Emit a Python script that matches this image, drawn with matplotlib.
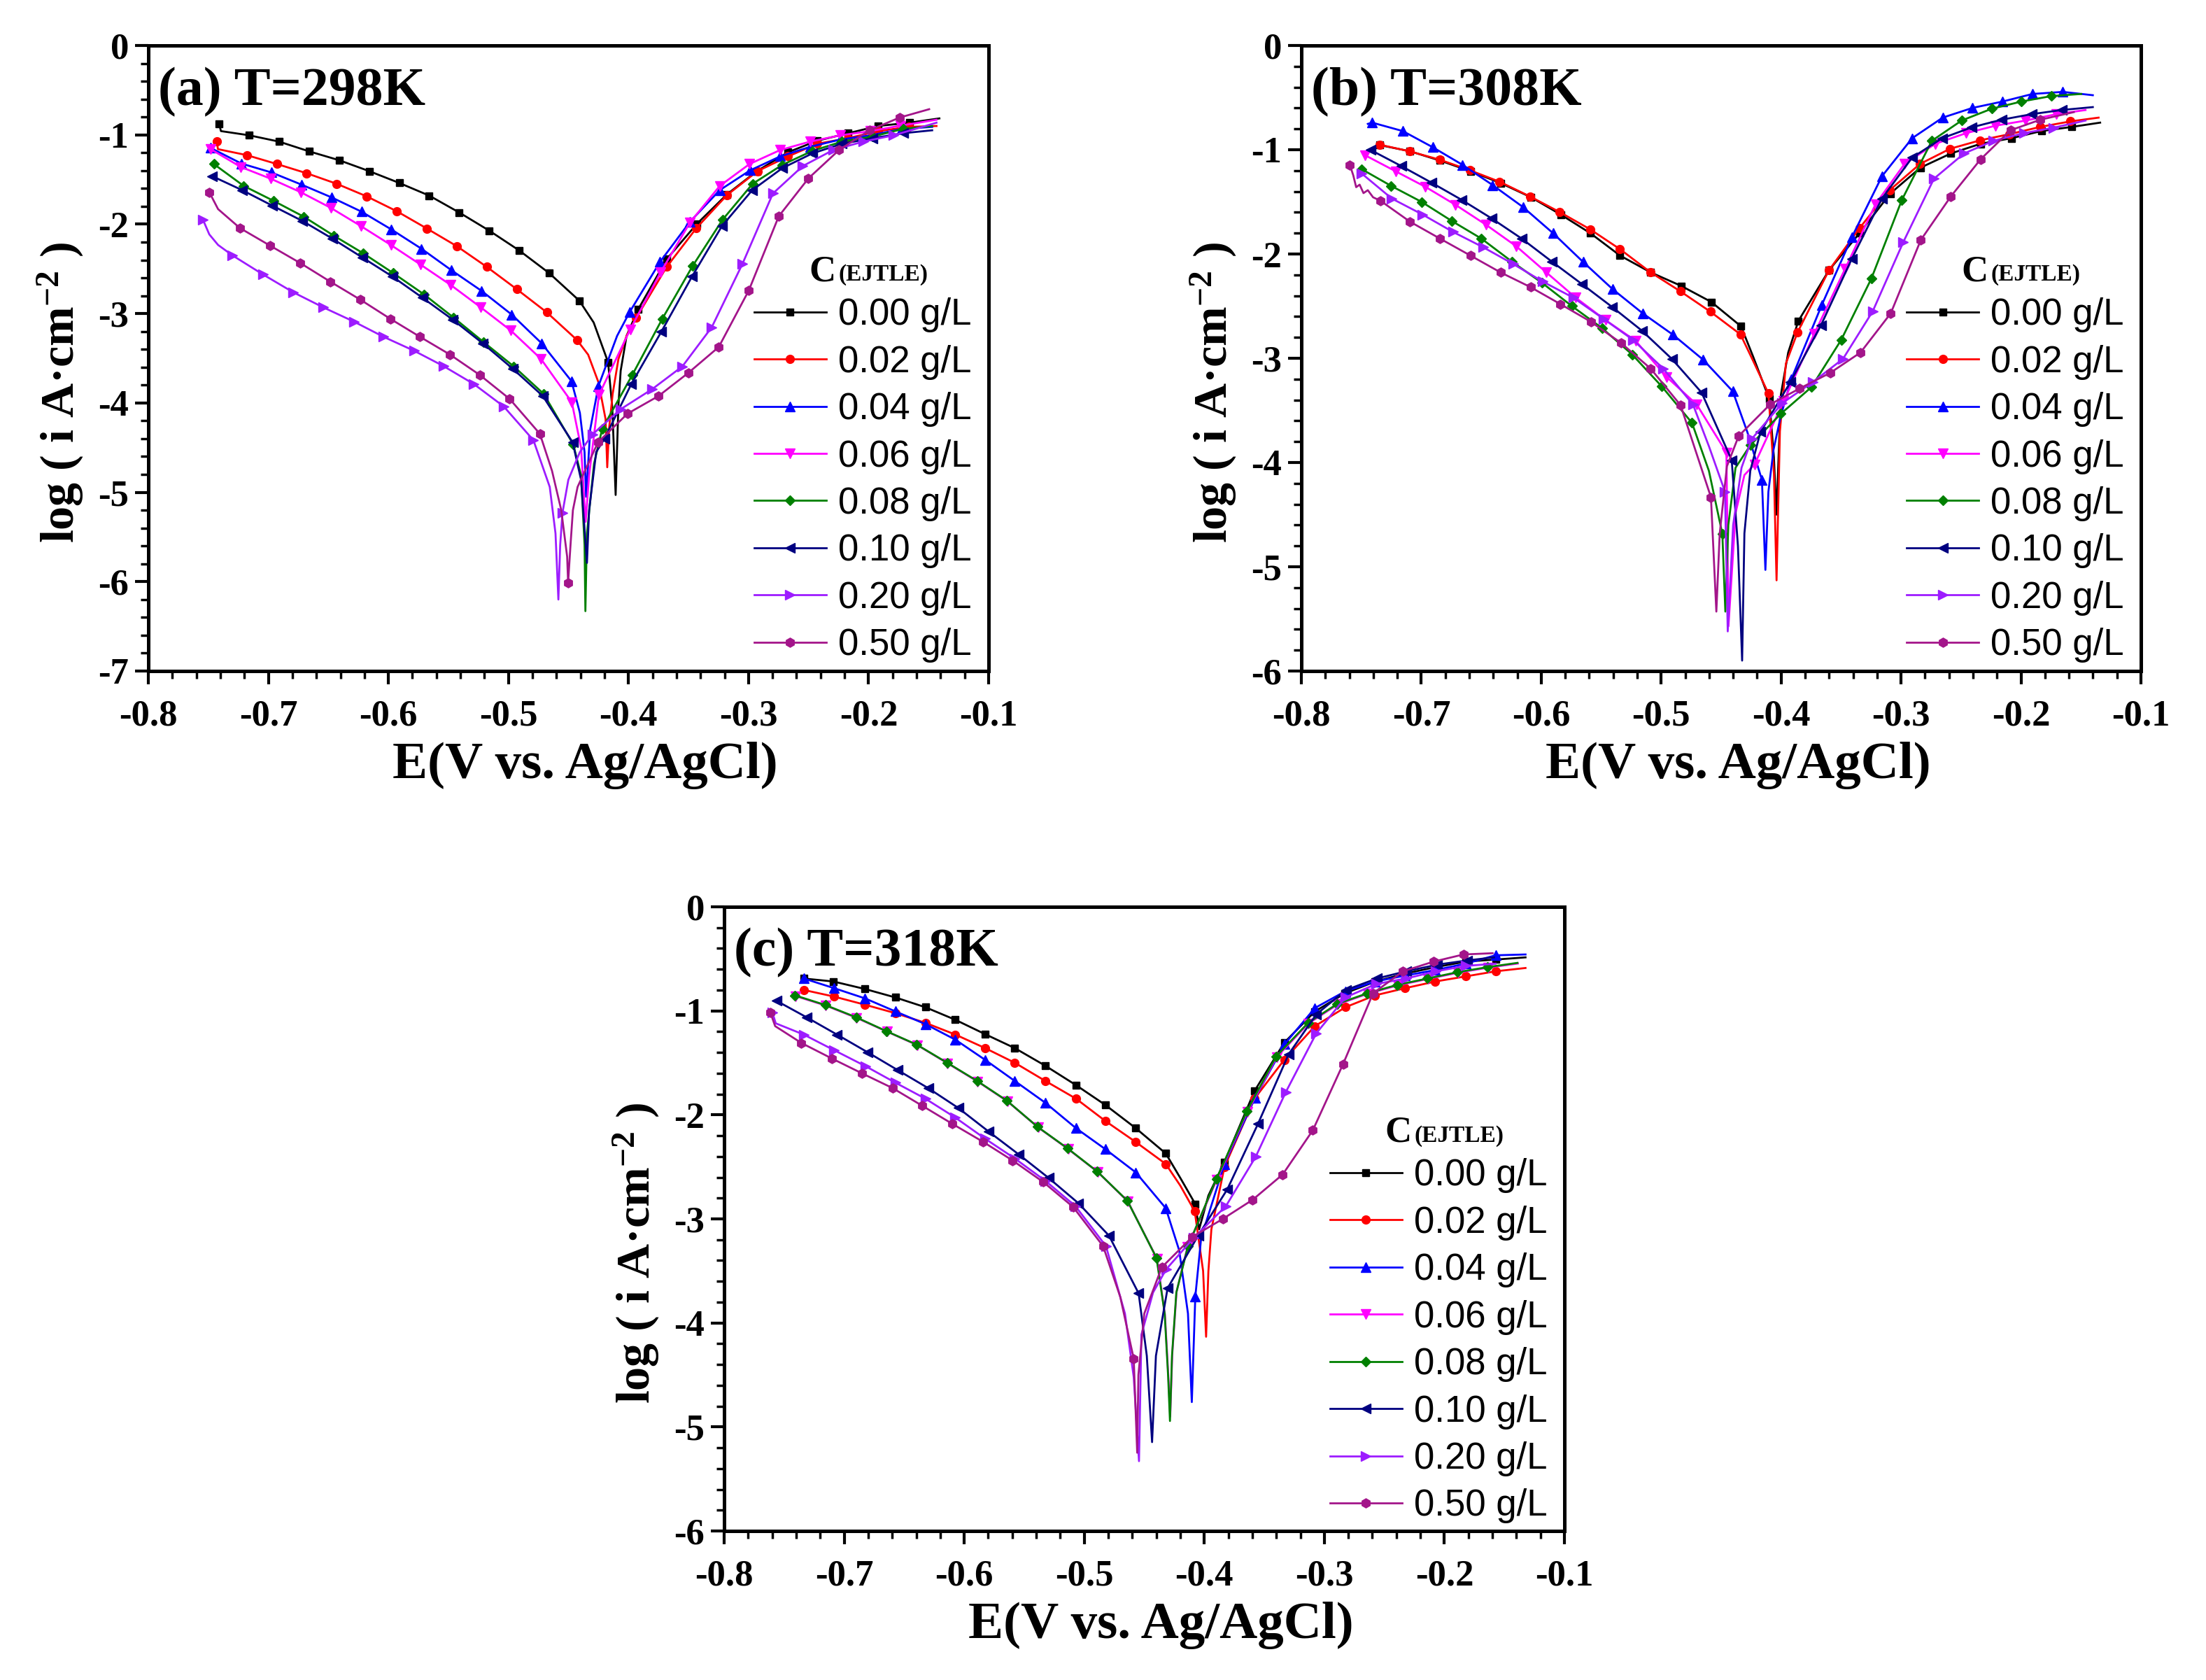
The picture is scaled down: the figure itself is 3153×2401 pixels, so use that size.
import numpy as np
import matplotlib
matplotlib.use("Agg")
import matplotlib.pyplot as plt
from matplotlib.ticker import MultipleLocator, FormatStrFormatter

# ---------------- data ----------------
labels = ["0.00 g/L", "0.02 g/L", "0.04 g/L", "0.06 g/L", "0.08 g/L", "0.10 g/L", "0.20 g/L", "0.50 g/L"]
panel_titles = ["(a) T=298K", "(b) T=308K", "(c) T=318K"]
ylims = [-7, -6, -6]

# ---- 298 K : marked points (E, logi) ----
E_298 = [
    [-0.741, -0.716, -0.691, -0.666, -0.641, -0.616, -0.591, -0.566, -0.541, -0.516, -0.491, -0.466, -0.441, -0.417, -0.392, -0.368, -0.343, -0.318, -0.293, -0.267, -0.243, -0.217, -0.192, -0.166],
    [-0.743, -0.718, -0.693, -0.668, -0.643, -0.618, -0.593, -0.568, -0.543, -0.518, -0.493, -0.468, -0.443, -0.3936, -0.3682, -0.3434, -0.3180, -0.2925, -0.2670, -0.2428, -0.2173, -0.1919, -0.1664],
    [-0.748, -0.7225, -0.6976, -0.6724, -0.6475, -0.6225, -0.5976, -0.5724, -0.5475, -0.5223, -0.4973, -0.4724, -0.4475, -0.4250, -0.3992, -0.3737, -0.3488, -0.3240, -0.2986, -0.2736, -0.2484, -0.2234, -0.1979, -0.1725],
    [-0.748, -0.723, -0.698, -0.673, -0.648, -0.623, -0.598, -0.573, -0.548, -0.523, -0.498, -0.473, -0.4472, -0.4246, -0.3985, -0.3733, -0.3488, -0.3240, -0.2991, -0.2736, -0.2489, -0.2234, -0.1984, -0.1732],
    [-0.7455, -0.7206, -0.6959, -0.6705, -0.6455, -0.6208, -0.5959, -0.5705, -0.5458, -0.5208, -0.4956, -0.4707, -0.4460, -0.4219, -0.3968, -0.3718, -0.3466, -0.3216, -0.2966, -0.2719, -0.2469, -0.2222, -0.1967, -0.1713],
    [-0.7467, -0.7218, -0.6966, -0.6717, -0.6467, -0.6215, -0.5966, -0.5717, -0.5465, -0.5215, -0.4966, -0.4714, -0.4465, -0.4200, -0.3977, -0.3725, -0.3471, -0.3221, -0.2969, -0.2719, -0.2469, -0.2222, -0.1967, -0.1713],
    [-0.7545, -0.7298, -0.7044, -0.6794, -0.6542, -0.6286, -0.6039, -0.5785, -0.5542, -0.5288, -0.5039, -0.4792, -0.4550, -0.4298, -0.4065, -0.3803, -0.3551, -0.3306, -0.3051, -0.2797, -0.2549, -0.2295, -0.2045, -0.1790],
    [-0.7492, -0.7237, -0.6983, -0.6734, -0.6484, -0.6232, -0.5985, -0.5736, -0.5487, -0.5240, -0.4990, -0.4738, -0.4503, -0.4254, -0.4008, -0.3749, -0.3500, -0.3248, -0.2998, -0.2748, -0.2501, -0.2246, -0.1992, -0.1742],
]
I_298 = [
    [-0.88, -1.005, -1.076, -1.185, -1.284, -1.406, -1.538, -1.680, -1.869, -2.072, -2.294, -2.548, -2.855, -3.544, -2.954, -2.388, -1.996, -1.666, -1.406, -1.194, -1.067, -0.982, -0.901, -0.864],
    [-1.076, -1.227, -1.326, -1.430, -1.548, -1.689, -1.855, -2.048, -2.246, -2.478, -2.728, -2.987, -3.294, -3.049, -2.478, -2.043, -1.675, -1.406, -1.241, -1.10, -1.038, -0.958, -0.911],
    [-1.147, -1.321, -1.420, -1.557, -1.699, -1.859, -2.058, -2.275, -2.515, -2.747, -3.011, -3.332, -3.756, -3.81, -2.987, -2.421, -1.973, -1.619, -1.397, -1.241, -1.133, -1.052, -1.005, -0.934],
    [-1.161, -1.359, -1.491, -1.642, -1.817, -2.020, -2.232, -2.454, -2.681, -2.931, -3.190, -3.506, -3.992, -3.91, -3.176, -2.539, -1.982, -1.572, -1.326, -1.170, -1.076, -1.005, -0.958, -0.897],
    [-1.326, -1.571, -1.737, -1.916, -2.128, -2.327, -2.548, -2.784, -3.044, -3.318, -3.591, -3.898, -4.464, -4.29, -3.686, -3.058, -2.468, -1.949, -1.548, -1.336, -1.180, -1.076, -1.019, -0.934],
    [-1.463, -1.619, -1.793, -1.963, -2.161, -2.374, -2.586, -2.822, -3.067, -3.332, -3.615, -3.922, -4.441, -4.40, -3.79, -3.200, -2.586, -2.020, -1.619, -1.373, -1.208, -1.100, -1.038, -0.982],
    [-1.949, -2.350, -2.563, -2.761, -2.931, -3.091, -3.261, -3.417, -3.587, -3.789, -4.040, -4.417, -5.23, -4.35, -4.07, -3.846, -3.591, -3.152, -2.445, -1.656, -1.350, -1.170, -1.076, -1.005],
    [-1.642, -2.043, -2.242, -2.435, -2.643, -2.846, -3.058, -3.261, -3.459, -3.686, -3.955, -4.346, -6.01, -4.44, -4.12, -3.922, -3.662, -3.374, -2.742, -1.911, -1.487, -1.170, -0.949, -0.807],
]
# ---- 298 K : unmarked detail points ----
tE_298 = [
    [-0.7395, -0.429, -0.4135, -0.4107, -0.4084, -0.4065, -0.4016, -0.141],
    [-0.742, -0.4336, -0.425, -0.4191, -0.4177, -0.4162, -0.4132, -0.4084, -0.4016, -0.1434],
    [-0.4405, -0.4366, -0.4353, -0.4318, -0.4095, -0.1470],
    [-0.4395, -0.4357, -0.4328, -0.1434],
    [-0.4395, -0.4366, -0.4359, -0.4346, -0.4287, -0.1470],
    [-0.4395, -0.4346, -0.4328, -0.4269, -0.1470],
    [-0.7492, -0.7419, -0.4656, -0.4608, -0.4584, -0.4569, -0.4501, -0.4405, -0.1434],
    [-0.7419, -0.4637, -0.4560, -0.4511, -0.4482, -0.4463, -0.4424, -0.1495],
]
tI_298 = [
    [-0.958, -3.10, -4.05, -5.03, -4.03, -3.64, -3.25, -0.816],
    [-1.16, -3.46, -3.77, -4.18, -4.72, -4.29, -3.90, -3.51, -3.25, -0.901],
    [-4.11, -4.55, -5.05, -4.29, -3.25, -0.911],
    [-4.50, -5.33, -4.81, -0.831],
    [-4.81, -5.59, -6.33, -5.46, -4.68, -0.901],
    [-4.86, -5.79, -5.20, -4.55, -0.949],
    [-2.114, -2.232, -4.94, -5.46, -6.20, -5.59, -4.86, -4.55, -0.864],
    [-1.831, -4.76, -5.20, -5.72, -5.57, -5.20, -4.94, -0.713],
]

# ---- 308 K : marked points ----
E_308 = [
    [-0.7348, -0.7093, -0.6843, -0.6590, -0.6340, -0.6085, -0.5837, -0.5591, -0.5343, -0.5088, -0.4833, -0.4582, -0.4334, -0.4099, -0.3856, -0.3601, -0.3346, -0.3090, -0.2840, -0.2585, -0.2337, -0.2082, -0.1831, -0.1576],
    [-0.7348, -0.7098, -0.6845, -0.6595, -0.6347, -0.6094, -0.5846, -0.5591, -0.5343, -0.5088, -0.4840, -0.4590, -0.4339, -0.4106, -0.3863, -0.3601, -0.3346, -0.3095, -0.2843, -0.2592, -0.2342, -0.2094, -0.1839, -0.1588],
    [-0.7409, -0.7154, -0.6906, -0.6656, -0.6405, -0.6153, -0.5902, -0.5652, -0.5404, -0.5154, -0.4901, -0.4650, -0.4403, -0.4160, -0.3915, -0.3662, -0.3411, -0.3159, -0.2908, -0.2653, -0.2405, -0.2155, -0.1904, -0.1651],
    [-0.7470, -0.7215, -0.6967, -0.6714, -0.6461, -0.6208, -0.5958, -0.5713, -0.5465, -0.5214, -0.4954, -0.4704, -0.4456, -0.4221, -0.3978, -0.3722, -0.3467, -0.3212, -0.2969, -0.2714, -0.2458, -0.2211, -0.1960, -0.1705],
    [-0.7499, -0.7251, -0.6996, -0.6746, -0.6498, -0.6242, -0.5992, -0.5744, -0.5494, -0.5241, -0.4996, -0.4743, -0.4490, -0.4257, -0.4002, -0.3747, -0.3499, -0.3248, -0.2993, -0.2743, -0.2495, -0.2245, -0.1997, -0.1746],
    [-0.7421, -0.7166, -0.6916, -0.6663, -0.6413, -0.6162, -0.5909, -0.5659, -0.5409, -0.5161, -0.4911, -0.4663, -0.4412, -0.4172, -0.3922, -0.3667, -0.3411, -0.3159, -0.2908, -0.2658, -0.2410, -0.2162, -0.1912, -0.1661],
    [-0.7499, -0.7246, -0.6989, -0.6736, -0.6486, -0.6235, -0.5987, -0.5732, -0.5482, -0.5234, -0.4983, -0.4735, -0.4468, -0.4245, -0.3990, -0.3735, -0.3484, -0.3236, -0.2981, -0.2726, -0.2475, -0.2228, -0.1977, -0.1729],
    [-0.7596, -0.7341, -0.7093, -0.6843, -0.6590, -0.6340, -0.6089, -0.5841, -0.5586, -0.5336, -0.5088, -0.4838, -0.4585, -0.4354, -0.4092, -0.3844, -0.3589, -0.3338, -0.3086, -0.2835, -0.2585, -0.2337, -0.2087, -0.1839],
]
I_308 = [
    [-0.955, -1.015, -1.104, -1.206, -1.319, -1.456, -1.622, -1.800, -2.015, -2.176, -2.306, -2.460, -2.694, -3.390, -2.642, -2.156, -1.800, -1.420, -1.173, -1.036, -0.943, -0.890, -0.821, -0.781],
    [-0.951, -1.015, -1.096, -1.197, -1.307, -1.448, -1.598, -1.764, -1.954, -2.176, -2.358, -2.553, -2.771, -3.337, -2.751, -2.156, -1.752, -1.388, -1.137, -0.991, -0.910, -0.850, -0.781, -0.728],
    [-0.740, -0.821, -0.975, -1.145, -1.339, -1.549, -1.800, -2.075, -2.338, -2.569, -2.775, -3.014, -3.317, -4.167, -3.20, -2.492, -1.841, -1.254, -0.890, -0.692, -0.599, -0.538, -0.465, -0.445],
    [-1.052, -1.206, -1.355, -1.529, -1.719, -1.926, -2.176, -2.419, -2.633, -2.832, -3.180, -3.443, -3.904, -4.017, -3.410, -2.763, -2.144, -1.521, -1.133, -0.943, -0.841, -0.769, -0.720, -0.659],
    [-1.185, -1.347, -1.501, -1.683, -1.853, -2.075, -2.278, -2.500, -2.710, -2.965, -3.269, -3.620, -4.684, -3.835, -3.532, -3.277, -2.824, -2.237, -1.481, -0.914, -0.720, -0.607, -0.538, -0.485],
    [-1.003, -1.157, -1.315, -1.481, -1.659, -1.853, -2.075, -2.290, -2.508, -2.735, -3.006, -3.329, -3.977, -3.706, -3.228, -2.682, -2.047, -1.468, -1.076, -0.890, -0.785, -0.712, -0.659, -0.619],
    [-1.226, -1.468, -1.622, -1.788, -1.934, -2.095, -2.265, -2.419, -2.621, -2.824, -3.099, -3.443, -4.280, -3.774, -3.430, -3.228, -3.006, -2.549, -1.885, -1.278, -1.036, -0.914, -0.841, -0.789],
    [-1.145, -1.489, -1.691, -1.853, -2.015, -2.176, -2.318, -2.480, -2.650, -2.852, -3.099, -3.451, -4.333, -3.746, -3.443, -3.289, -3.139, -2.945, -2.569, -1.865, -1.448, -1.092, -0.813, -0.712],
]
tE_308 = [
    [-0.4233, -0.4060, -0.4039, -0.4002, -0.3941, -0.1340],
    [-0.4233, -0.4060, -0.4038, -0.4010, -0.3960, -0.1353],
    [-0.7446, -0.4281, -0.4131, -0.4106, -0.4063, -0.4002, -0.1401],
    [-0.4439, -0.4379, -0.4306, -0.1462],
    [-0.4602, -0.4465, -0.4440, -0.4380, -0.1498],
    [-0.4360, -0.4325, -0.4306, -0.4257, -0.1401],
    [-0.4600, -0.4445, -0.4400, -0.4330, -0.1462],
    [-0.7567, -0.7543, -0.7514, -0.7482, -0.7446, -0.7402, -0.4540, -0.4512, -0.4452, -0.1559],
]
tI_308 = [
    [-2.985, -3.95, -4.50, -3.35, -2.945, -0.740],
    [-3.026, -4.10, -5.13, -3.70, -3.05, -0.692],
    [-0.752, -3.71, -5.03, -4.28, -3.875, -3.55, -0.477],
    [-5.57, -4.48, -4.12, -0.619],
    [-4.08, -5.43, -4.60, -4.05, -0.465],
    [-4.80, -5.90, -4.68, -4.08, -0.591],
    [-3.85, -5.62, -4.60, -4.05, -0.72],
    [-1.246, -1.359, -1.335, -1.416, -1.388, -1.456, -5.43, -4.684, -4.037, -0.639],
]

# ---- 318 K : marked points ----
E_318 = [
    [-0.7337, -0.7089, -0.6827, -0.6574, -0.6324, -0.6074, -0.5826, -0.5579, -0.5324, -0.5069, -0.4824, -0.4571, -0.4321, -0.4075, -0.3832, -0.3582, -0.3334, -0.3079, -0.2829, -0.2577, -0.2327, -0.2079, -0.1824, -0.1574],
    [-0.7337, -0.7084, -0.6827, -0.6574, -0.6324, -0.6074, -0.5826, -0.5579, -0.5324, -0.5069, -0.4824, -0.4571, -0.4321, -0.4080, -0.3832, -0.3582, -0.3334, -0.3079, -0.2824, -0.2577, -0.2327, -0.2076, -0.1824, -0.1574],
    [-0.7337, -0.7084, -0.6827, -0.6574, -0.6324, -0.6074, -0.5826, -0.5579, -0.5324, -0.5069, -0.4824, -0.4571, -0.4321, -0.4075, -0.3832, -0.3577, -0.3329, -0.3079, -0.2824, -0.2577, -0.2327, -0.2076, -0.1824, -0.1574],
    [-0.7405, -0.7152, -0.6896, -0.6643, -0.6390, -0.6138, -0.5888, -0.5640, -0.5385, -0.5135, -0.4887, -0.4637, -0.4394, -0.4140, -0.3895, -0.3642, -0.3398, -0.3131, -0.2888, -0.2638, -0.2388, -0.2136, -0.1885, -0.1638],
    [-0.7410, -0.7157, -0.6900, -0.6647, -0.6395, -0.6142, -0.5892, -0.5644, -0.5389, -0.5139, -0.4891, -0.4641, -0.4398, -0.4136, -0.3898, -0.3645, -0.3402, -0.3135, -0.2892, -0.2642, -0.2392, -0.2140, -0.1889, -0.1642],
    [-0.7563, -0.7313, -0.7060, -0.6805, -0.6555, -0.6300, -0.6050, -0.5797, -0.5547, -0.5297, -0.5049, -0.4794, -0.4547, -0.4306, -0.4051, -0.3808, -0.3553, -0.3298, -0.3067, -0.2819, -0.2562, -0.2319, -0.2059, -0.1809],
    [-0.7599, -0.7337, -0.7084, -0.6822, -0.6574, -0.6324, -0.6074, -0.5826, -0.5579, -0.5324, -0.5074, -0.4819, -0.4318, -0.4087, -0.3820, -0.3572, -0.3322, -0.3067, -0.2824, -0.2569, -0.2319, -0.2071, -0.1824],
    [-0.7616, -0.7356, -0.7101, -0.6851, -0.6596, -0.6349, -0.6098, -0.5846, -0.5596, -0.5341, -0.5093, -0.4843, -0.4588, -0.4354, -0.4100, -0.3844, -0.3597, -0.3347, -0.3096, -0.2844, -0.2594, -0.2344, -0.2091, -0.1841],
]
I_318 = [
    [-0.689, -0.718, -0.790, -0.871, -0.965, -1.086, -1.224, -1.358, -1.528, -1.714, -1.905, -2.128, -2.371, -2.857, -2.452, -1.771, -1.306, -1.006, -0.832, -0.719, -0.642, -0.581, -0.527, -0.507],
    [-0.799, -0.863, -0.941, -1.022, -1.115, -1.228, -1.358, -1.499, -1.674, -1.844, -2.059, -2.261, -2.472, -2.926, -2.500, -1.844, -1.471, -1.147, -0.965, -0.851, -0.782, -0.718, -0.669, -0.620],
    [-0.689, -0.782, -0.880, -1.005, -1.127, -1.277, -1.471, -1.674, -1.884, -2.128, -2.330, -2.553, -2.897, -3.748, -2.472, -1.836, -1.317, -0.973, -0.811, -0.718, -0.661, -0.608, -0.547, -0.466],
    [-0.858, -0.950, -1.068, -1.200, -1.330, -1.505, -1.680, -1.870, -2.120, -2.328, -2.550, -2.832, -3.383, -3.270, -2.620, -1.972, -1.445, -1.120, -0.938, -0.835, -0.755, -0.693, -0.633, -0.585],
    [-0.851, -0.944, -1.062, -1.196, -1.325, -1.499, -1.674, -1.864, -2.115, -2.322, -2.545, -2.825, -3.376, -3.262, -2.614, -1.966, -1.439, -1.115, -0.933, -0.831, -0.750, -0.689, -0.628, -0.580],
    [-0.904, -1.062, -1.228, -1.398, -1.569, -1.743, -1.933, -2.160, -2.379, -2.606, -2.849, -3.161, -3.716, -3.667, -3.16, -2.715, -2.087, -1.418, -1.034, -0.799, -0.689, -0.620, -0.556, -0.515],
    [-1.013, -1.228, -1.378, -1.532, -1.690, -1.844, -2.026, -2.229, -2.419, -2.634, -2.877, -3.262, -3.485, -3.181, -2.877, -2.403, -1.783, -1.216, -0.871, -0.742, -0.689, -0.620, -0.568],
    [-1.013, -1.309, -1.459, -1.601, -1.743, -1.913, -2.087, -2.257, -2.439, -2.646, -2.885, -3.262, -4.344, -3.465, -3.173, -2.999, -2.816, -2.573, -2.148, -1.512, -0.831, -0.620, -0.527, -0.458],
]
tE_318 = [
    [-0.4196, -0.4043, -0.3966, -0.1324],
    [-0.4200, -0.4010, -0.3985, -0.3966, -0.3941, -0.1324],
    [-0.4209, -0.4136, -0.4104, -0.4026, -0.1324],
    [-0.4328, -0.4300, -0.4284, -0.4267, -0.4231, -0.1388],
    [-0.4330, -0.4301, -0.4286, -0.4269, -0.4233, -0.1391],
    [-0.4479, -0.4435, -0.4403, -0.1586],
    [-0.7570, -0.4661, -0.4588, -0.4544, -0.4524, -0.4427, -0.1574],
    [-0.7575, -0.4700, -0.4559, -0.4549, -0.4500, -0.1598],
]
tI_318 = [
    [-2.614, -3.10, -2.776, -0.486],
    [-2.68, -3.50, -4.133, -3.505, -3.10, -0.588],
    [-3.303, -3.91, -4.761, -3.181, -0.458],
    [-3.92, -4.50, -4.90, -4.30, -3.70, -0.545],
    [-3.91, -4.52, -4.943, -4.316, -3.708, -0.539],
    [-4.316, -5.146, -4.316, -0.486],
    [-1.12, -3.91, -4.52, -5.329, -4.113, -3.708, -0.547],
    [-1.147, -3.75, -5.248, -4.50, -3.91, -0.446],
]

# ---------------- style ----------------
colors = ["#000000", "#FF0000", "#0000FF", "#FF00FF", "#008000", "#000080", "#9D1CFF", "#A3158A"]
markers = ["s", "o", "^", "v", "D", "<", ">", "h"]
msizes = [7.5, 8.5, 9.5, 9.5, 7.5, 9.5, 9.5, 9.5]

SERIF = "Liberation Serif"
SANS = "Liberation Sans"
plt.rcParams["axes.unicode_minus"] = False
plt.rcParams["mathtext.fontset"] = "custom"
plt.rcParams["mathtext.rm"] = "Liberation Serif:bold"
plt.rcParams["mathtext.bf"] = "Liberation Serif:bold"
plt.rcParams["mathtext.it"] = "Liberation Serif:bold:italic"

W, H = 3153, 2401
fig = plt.figure(figsize=(W / 100, H / 100), dpi=100)

# axes boxes in pixels: left, top, right, bottom
boxes = [(212, 65, 1413, 959), (1860, 65, 3060, 959), (1035, 1296, 2236, 2188)]

datasets = [(E_298, I_298, tE_298, tI_298), (E_308, I_308, tE_308, tI_308), (E_318, I_318, tE_318, tI_318)]

for p, (l, t, r, b) in enumerate(boxes):
    ax = fig.add_axes([l / W, 1 - b / H, (r - l) / W, (b - t) / H])
    Em_all, Im_all, Et_all, It_all = datasets[p]
    for k in range(8):
        Em = np.array(Em_all[k]); Im = np.array(Im_all[k])
        Et = np.array(Et_all[k]); It = np.array(It_all[k])
        E = np.concatenate([Em, Et]); I = np.concatenate([Im, It])
        flag = np.concatenate([np.ones(len(Em), bool), np.zeros(len(Et), bool)])
        order = np.argsort(E, kind="stable")
        E, I, flag = E[order], I[order], flag[order]
        idx = list(np.nonzero(flag)[0])
        ax.plot(E, I, color=colors[k], lw=2.0, marker=markers[k], ms=msizes[k],
                markevery=idx, mec=colors[k], mfc=colors[k], label=labels[k],
                solid_joinstyle="round")

    ax.set_xlim(-0.8, -0.1)
    ax.set_ylim(ylims[p], 0)
    ax.xaxis.set_major_locator(MultipleLocator(0.1))
    ax.xaxis.set_minor_locator(MultipleLocator(0.02))
    ax.yaxis.set_major_locator(MultipleLocator(1))
    ax.yaxis.set_minor_locator(MultipleLocator(0.2))
    ax.xaxis.set_major_formatter(FormatStrFormatter("%.1f"))
    ax.yaxis.set_major_formatter(FormatStrFormatter("%d"))
    for s in ax.spines.values():
        s.set_linewidth(3.6)
    ax.tick_params(which="major", direction="out", length=14, width=3.0)
    ax.tick_params(which="minor", direction="out", length=8, width=2.5)
    ax.tick_params(axis="x", which="major", pad=15)
    ax.tick_params(axis="y", which="major", pad=6)
    for lab in ax.get_xticklabels() + ax.get_yticklabels():
        lab.set_fontfamily(SERIF)
        lab.set_fontweight("bold")
        lab.set_fontsize(38)

    ax.set_xlabel("E(V vs. Ag/AgCl)", fontsize=54, fontweight="bold", fontfamily=SERIF)
    ax.xaxis.set_label_coords(0.52, -0.113)
    ax.set_ylabel("log ( i A\u00b7cm$^{\\mathbf{-2}}$ )", fontsize=49, fontweight="bold", fontfamily=SERIF)
    ax.yaxis.set_label_coords(-0.074, 0.445)

    ax.text(0.0115, 0.905, panel_titles[p], transform=ax.transAxes, fontsize=56,
            fontweight="bold", fontfamily=SERIF, va="baseline", ha="left")

    ax.text(0.786, 0.624, "C", transform=ax.transAxes, fontsize=38,
            fontweight="bold", fontfamily=SERIF, va="baseline", ha="left")
    ax.text(0.821, 0.624, "(EJTLE)", transform=ax.transAxes, fontsize=24,
            fontweight="bold", fontfamily=SERIF, va="baseline", ha="left")

    ax.legend(loc="upper left", bbox_to_anchor=(0.7211, 0.597), frameon=False,
              prop={"family": SANS, "size": 38}, handlelength=1.95, handletextpad=0.32,
              labelspacing=0.33, borderpad=0, borderaxespad=0, numpoints=1)

fig.savefig("out.png", dpi=100)
